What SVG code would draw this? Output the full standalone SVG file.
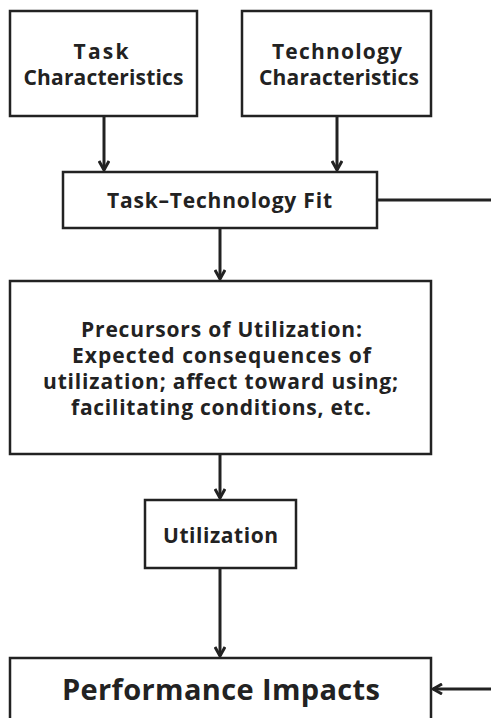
<svg xmlns="http://www.w3.org/2000/svg" width="491" height="718" viewBox="0 0 491 718">
<style>
.box{fill:#fff;stroke:#222;stroke-width:2.5}
.t{font-family:"Open Sans","Noto Sans","Liberation Sans",sans-serif;font-weight:bold;fill:#222;text-anchor:middle;font-size:21px}
.c{stroke:#222;stroke-width:3;fill:none}
</style>
<defs>
<marker id="ah" markerWidth="12" markerHeight="12" refX="10" refY="6" orient="auto" markerUnits="userSpaceOnUse">
<path d="M1,1 L10,6 L1,11" fill="none" stroke="#222" stroke-width="3"/>
</marker>
</defs>
<rect width="491" height="718" fill="#fff"/>
<g id="task">
<rect class="box" x="10" y="11" width="187" height="105"/>
<text class="t" x="101" y="59" textLength="55" lengthAdjust="spacing">Task</text>
<text class="t" x="103.5" y="85" textLength="160" lengthAdjust="spacing">Characteristics</text>
</g>
<g id="tech">
<rect class="box" x="242" y="11" width="189" height="105"/>
<text class="t" x="337" y="59" textLength="130" lengthAdjust="spacing">Technology</text>
<text class="t" x="339" y="85" textLength="160" lengthAdjust="spacing">Characteristics</text>
</g>
<g id="ttf">
<rect class="box" x="63" y="172" width="314" height="56"/>
<text class="t" x="219.5" y="208" textLength="225" lengthAdjust="spacing">Task–Technology Fit</text>
</g>
<g id="precursors">
<rect class="box" x="10" y="281" width="421" height="173"/>
<text class="t" x="221.5" y="337" textLength="281" lengthAdjust="spacing">Precursors of Utilization:</text>
<text class="t" x="221.5" y="363" textLength="299" lengthAdjust="spacing">Expected consequences of</text>
<text class="t" x="220.5" y="389" textLength="355" lengthAdjust="spacing">utilization; affect toward using;</text>
<text class="t" x="221" y="415" textLength="300" lengthAdjust="spacing">facilitating conditions, etc.</text>
</g>
<g id="utilization">
<rect class="box" x="145" y="500" width="151" height="68"/>
<text class="t" x="220.5" y="543" textLength="115" lengthAdjust="spacing">Utilization</text>
</g>
<g id="performance">
<rect class="box" x="10" y="658" width="421" height="70"/>
<text class="t" x="221" y="700" style="font-size:29px" textLength="318" lengthAdjust="spacing">Performance Impacts</text>
</g>
<g id="connectors">
<line class="c" x1="104" y1="116" x2="104" y2="170" marker-end="url(#ah)"/>
<line class="c" x1="337" y1="116" x2="337" y2="170" marker-end="url(#ah)"/>
<line class="c" x1="220" y1="228" x2="220" y2="279" marker-end="url(#ah)"/>
<line class="c" x1="220" y1="454" x2="220" y2="498" marker-end="url(#ah)"/>
<line class="c" x1="220" y1="568" x2="220" y2="656" marker-end="url(#ah)"/>
<polyline class="c" points="377,200 491,200"/>
<line class="c" x1="491" y1="689" x2="433" y2="689" marker-end="url(#ah)"/>
</g>
</svg>
